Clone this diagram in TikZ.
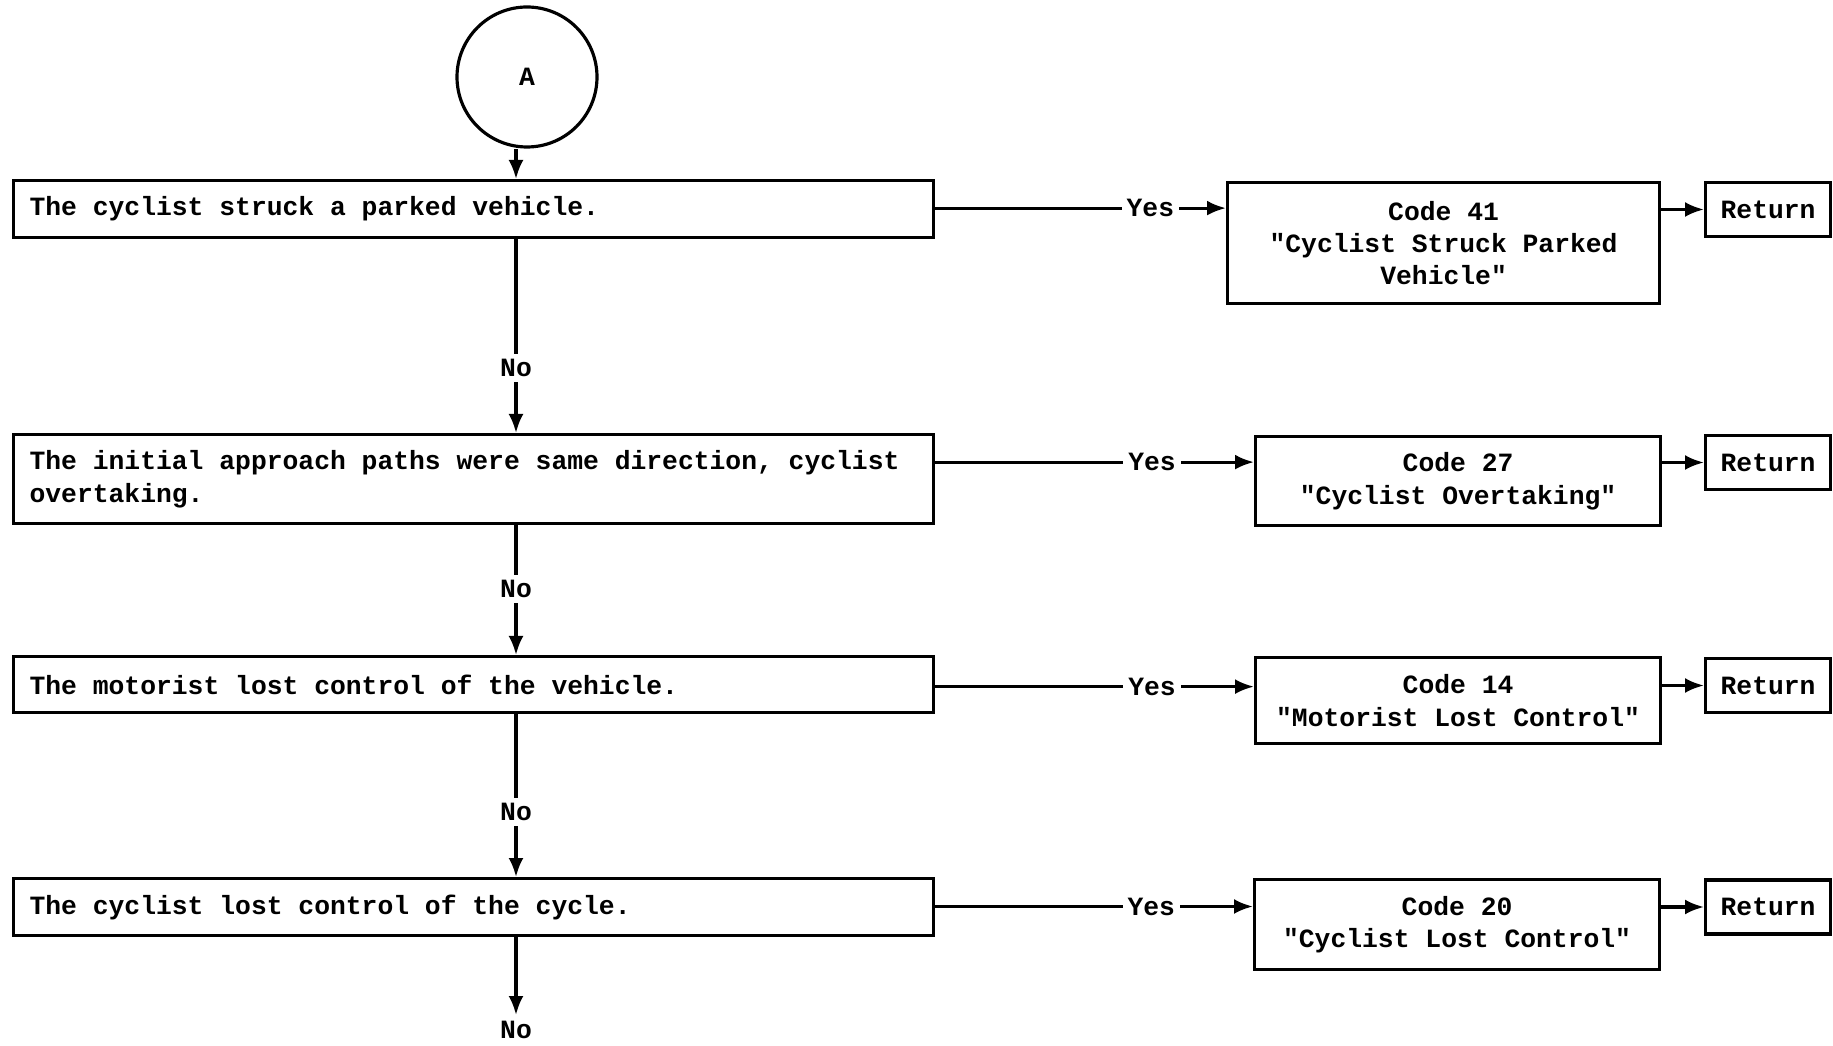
\documentclass[tikz,border=0pt]{standalone}
\usepackage{fontspec}
\newfontfamily\typefont{Liberation Mono}
\usetikzlibrary{arrows.meta, positioning}

\begin{document}
\begin{tikzpicture}[
  x=1mm, y=1mm,
  font=\typefont\bfseries\fontsize{7.5pt}{9.2pt}\selectfont,
  >={Latex[length=1.9mm, width=1.5mm]},
  line width=0.9pt,
  qbox/.style={draw, anchor=north west, text width=88.8mm, align=flush left,
               inner xsep=1.6mm, inner ysep=1.6mm, minimum height=5.4mm},
  codebox/.style={draw, anchor=north west, align=center, inner xsep=1mm,
                  minimum width=40.5mm, minimum height=8.9mm},
  retbox/.style={draw, anchor=west, inner xsep=1.5mm, inner ysep=0pt,
                 minimum width=12.5mm, minimum height=5.4mm},
  lbl/.style={fill=white, inner sep=0.5mm},
  arr/.style={->},
]
\useasboundingbox (0,0) rectangle (183.3,-104.6);

% connector
\node[circle, draw, minimum size=14mm, inner sep=0pt] (A) at (52.7,-7.7) {A};
\coordinate (col) at (51.6,0);

% questions
\node[qbox] (q1) at (1.2,-17.9) {The cyclist struck a parked vehicle.};
\node[qbox] (q2) at (1.2,-43.3)
  {The initial approach paths were same direction, cyclist\\overtaking.};
\node[qbox, minimum height=5.6mm] (q3) at (1.2,-65.5)
  {The motorist lost control of the vehicle.};
\node[qbox, minimum height=5.6mm] (q4) at (1.2,-87.7)
  {The cyclist lost control of the cycle.};
\node[lbl, anchor=north] (no4) at (51.6,-101.5) {No};

% codes
\node[codebox, minimum width=43.2mm, minimum height=12.1mm] (c1) at (122.6,-18.1)
  {Code 41\\"Cyclist Struck Parked\\Vehicle"};
\node[codebox] (c2) at (125.4,-43.5) {Code 27\\"Cyclist Overtaking"};
\node[codebox, minimum height=8.6mm] (c3) at (125.4,-65.6)
  {Code 14\\"Motorist Lost Control"};
\node[codebox, minimum height=9mm] (c4) at (125.3,-87.8)
  {Code 20\\"Cyclist Lost Control"};

% returns
\node[retbox] (r1) at (170.4,-20.95) {Return};
\node[retbox] (r2) at (170.4,-46.25) {Return};
\node[retbox] (r3) at (170.4,-68.55) {Return};
\node[retbox] (r4) at (170.4,-90.7)  {Return};

\draw[arr] (A.south -| col) -- (q1.north -| col);
\draw[arr] (q1.south -| col) -- node[lbl, pos=.665]{No} (q2.north -| col);
\draw[arr] (q2.south -| col) -- node[lbl, pos=.49]{No} (q3.north -| col);
\draw[arr] (q3.south -| col) -- node[lbl, pos=.6]{No} (q4.north -| col);
\draw[arr] (q4.south -| col) -- (no4);

\draw[arr] (q1.mid east) -- node[lbl, pos=.74]{Yes} (q1.mid east -| c1.west);
\draw[arr] (q2.mid east) -- node[lbl, pos=.68]{Yes} (q2.mid east -| c2.west);
\draw[arr] (q3.mid east) -- node[lbl, pos=.68]{Yes} (q3.mid east -| c3.west);
\draw[arr] (q4.mid east) -- node[lbl, pos=.68]{Yes} (q4.mid east -| c4.west);

\draw[arr] (r1.west -| c1.east) -- (r1);
\draw[arr] (r2.west -| c2.east) -- (r2);
\draw[arr] (r3.west -| c3.east) -- (r3);
\draw[arr] (r4.west -| c4.east) -- (r4);
\end{tikzpicture}
\end{document}
